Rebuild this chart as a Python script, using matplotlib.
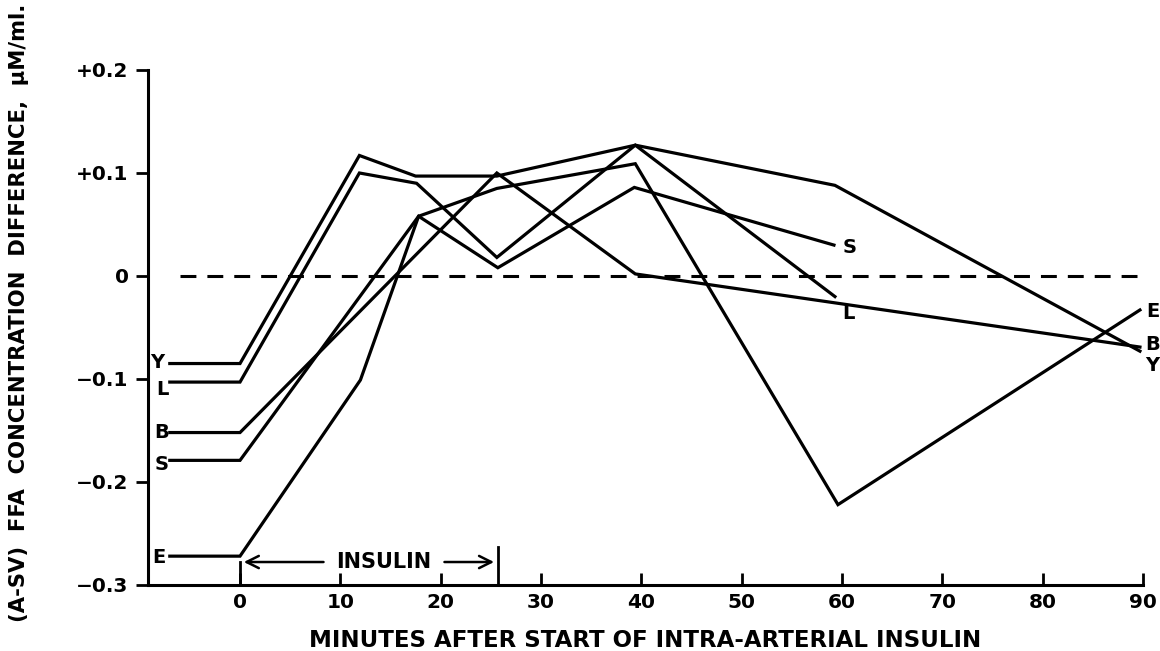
import matplotlib
matplotlib.use("Agg")
import matplotlib.pyplot as plt

# minutes after start of intra-arterial insulin; -7 is the pre-infusion baseline
y_min = [-7, 0, 11.9, 17.5, 25.6, 39.4, 59.3, 89.7]
y_ffa = [-0.085, -0.085, 0.117, 0.097, 0.097, 0.127, 0.088, -0.073]

l_min = [-7, 0, 11.9, 17.6, 25.6, 39.4, 59.3]
l_ffa = [-0.103, -0.103, 0.100, 0.090, 0.018, 0.127, -0.020]

b_min = [-7, 0, 25.6, 39.4, 89.7]
b_ffa = [-0.152, -0.152, 0.100, 0.002, -0.069]

s_min = [-7, 0, 17.8, 25.7, 39.3, 59.2]
s_ffa = [-0.179, -0.179, 0.058, 0.008, 0.086, 0.030]

e_min = [-7, 0, 12.0, 17.8, 25.6, 39.4, 59.6, 89.7]
e_ffa = [-0.272, -0.272, -0.101, 0.058, 0.085, 0.109, -0.222, -0.033]

subjects = ["Y", "L", "B", "S", "E"]
series_x = [y_min, l_min, b_min, s_min, e_min]
series_y = [y_ffa, l_ffa, b_ffa, s_ffa, e_ffa]

x_ticks = [0, 10, 20, 30, 40, 50, 60, 70, 80, 90]
y_ticks = [-0.3, -0.2, -0.1, 0, 0.1, 0.2]
y_tick_labels = ["\u22120.3", "\u22120.2", "\u22120.1", "0", "+0.1", "+0.2"]

insulin_start, insulin_end = 0, 25.7

font = dict(family="DejaVu Sans", weight="bold", size=14)

fig = plt.figure(figsize=(11.6, 6.51), dpi=100)
ax = fig.add_axes([0.1276, 0.1014, 0.8577, 0.7911])

for xs, ys in zip(series_x, series_y):
    ax.plot(xs, ys, color="black", lw=2.3, solid_joinstyle="miter", clip_on=False)

ax.plot([-6, 90.2], [0, 0], color="black", lw=2.2, dashes=(5.2, 3.6))

# subject letters at the left baseline
left_offsets = {"Y": (-9, 1), "L": (-5, -5), "B": (-6, 0), "S": (-6, -3), "E": (-8, -1)}
for name, xs, ys in zip(subjects, series_x, series_y):
    dx, dy = left_offsets[name]
    ax.annotate(name, xy=(xs[0], ys[0]), xytext=(dx, dy), textcoords="offset points",
                ha="center", va="center", annotation_clip=False, **font)

# subject letters at the last reading
right_offsets = {"Y": (9, -10), "L": (10, -12), "B": (9, 2), "S": (11, -2), "E": (9, -1)}
for name, xs, ys in zip(subjects, series_x, series_y):
    dx, dy = right_offsets[name]
    ax.annotate(name, xy=(xs[-1], ys[-1]), xytext=(dx, dy), textcoords="offset points",
                ha="center", va="center", annotation_clip=False, **font)

# insulin infusion bracket
bar_y = -0.2777
ax.plot([insulin_start, insulin_start], [-0.3, bar_y], color="black", lw=2, clip_on=False)
ax.plot([insulin_end, insulin_end], [-0.3, -0.263], color="black", lw=2, clip_on=False)
ax.text(14.3, bar_y, "INSULIN", ha="center", va="center",
        bbox=dict(facecolor="white", edgecolor="none", pad=1), **dict(font, size=15))
ax.annotate("", xy=(insulin_start + 0.1, bar_y), xytext=(8.6, bar_y),
            arrowprops=dict(arrowstyle="->", lw=1.8, color="black", mutation_scale=22))
ax.annotate("", xy=(insulin_end - 0.1, bar_y), xytext=(20.1, bar_y),
            arrowprops=dict(arrowstyle="->", lw=1.8, color="black", mutation_scale=22))

ax.set_xlim(-9.17, 90)
ax.set_ylim(-0.3, 0.2)
ax.spines["top"].set_visible(False)
ax.spines["right"].set_visible(False)
ax.spines["left"].set_linewidth(2.2)
ax.spines["bottom"].set_linewidth(2.2)

ax.set_xticks(x_ticks)
ax.set_xticklabels([str(t) for t in x_ticks], **dict(font, size=14.5))
ax.set_yticks(y_ticks)
ax.set_yticklabels(y_tick_labels, **dict(font, size=14.5))
ax.tick_params(axis="x", direction="in", length=9, width=2, pad=6)
ax.tick_params(axis="y", direction="out", length=9, width=2, pad=5)

ax.set_xlabel("MINUTES AFTER START OF INTRA-ARTERIAL INSULIN", labelpad=12, **dict(font, size=16.5))
fig.text(0.016, 0.995, "(A-SV)  FFA  CONCENTRATION  DIFFERENCE,  \u03bcM/ml.", rotation=90,
         ha="center", va="top", **dict(font, size=15.2))

fig.savefig("out.png", dpi=100)
